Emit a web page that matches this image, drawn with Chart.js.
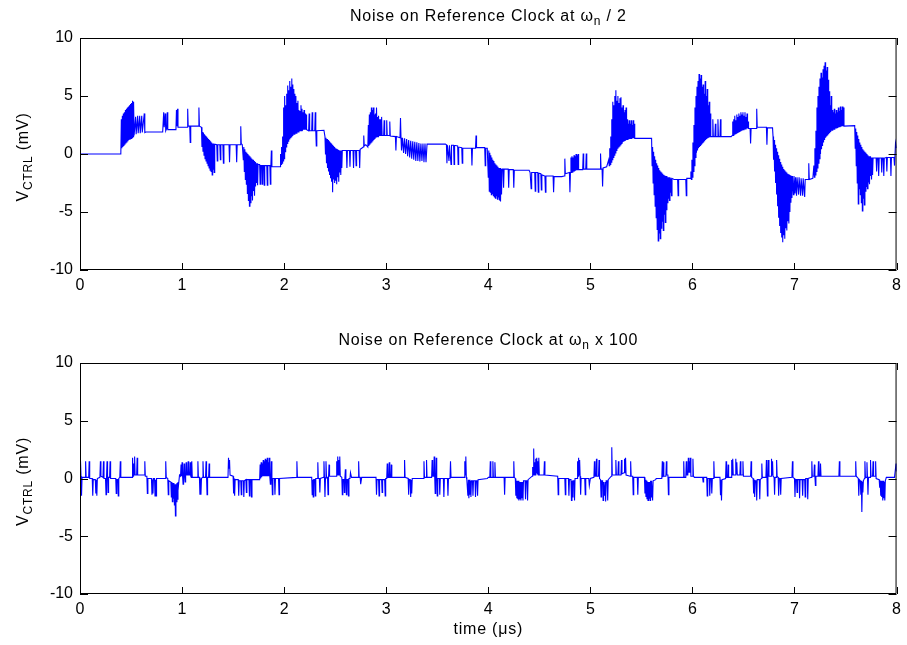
<!DOCTYPE html>
<html>
<head>
<meta charset="utf-8">
<script src="https://cdn.jsdelivr.net/npm/chart.js@4"></script>
<style>
  html, body { margin: 0; padding: 0; background: #fff; overflow: hidden; }
  canvas { position: absolute; left: 0; }
  #topCanvas { top: 0; }
  #bottomCanvas { top: 321px; }
</style>
</head>
<body>
<canvas id="topCanvas" width="907" height="321"></canvas>
<canvas id="bottomCanvas" width="907" height="324"></canvas>
<script>
// axis ticks
const xTicks = [0, 1, 2, 3, 4, 5, 6, 7, 8];
const yTicks = [-10, -5, 0, 5, 10];

// [time (us), V_CTRL (mV)], noise at wn / 2
const topSignal = [
  [0,0],[0.40,0],
  [0.405,3.0],[0.410,0.5],[0.415,3.3],[0.420,0.6],[0.425,3.5],[0.430,0.7],[0.435,3.6],[0.440,0.8],[0.445,3.8],[0.450,0.9],
  [0.455,3.9],[0.460,1.0],[0.465,4.0],[0.470,1.1],[0.475,4.1],[0.480,1.2],[0.485,4.2],[0.490,1.3],[0.495,4.3],[0.500,1.35],
  [0.505,4.4],[0.510,1.4],[0.515,4.6],[0.520,1.5],[0.525,4.5],[0.530,1.6],
  [0.545,3.2],[0.55,1.7],[0.565,3.3],[0.57,1.8],[0.585,3.3],[0.59,1.8],[0.605,3.3],[0.61,1.85],[0.63,3.5],[0.635,1.85],[0.645,1.9],
  [0.81,1.9],[0.82,3.6],[0.825,2.3],[0.835,3.5],[0.84,2.0],[0.85,2.2],[0.855,3.6],[0.86,2.1],[0.94,2.1],[0.945,3.8],[0.95,2.4],
  [0.955,3.9],[0.96,2.3],[1.05,2.3],[1.055,3.9],[1.06,2.4],[1.075,2.4],[1.08,1.0],[1.085,2.4],[1.16,2.4],[1.165,4.0],[1.17,2.4],[1.19,2.3],
  [1.195,0.6],[1.20,1.9],[1.205,0.2],[1.21,1.8],[1.215,-0.1],[1.22,1.7],[1.225,-0.4],[1.23,1.6],[1.235,-0.6],[1.24,1.5],[1.245,-0.8],
  [1.25,1.4],[1.255,-1.0],[1.26,1.3],[1.265,-1.2],[1.27,1.2],[1.275,-1.4],[1.28,1.1],[1.285,-1.5],[1.29,1.0],[1.295,-1.8],[1.30,0.9],
  [1.305,-1.3],[1.31,0.9],[1.315,-1.6],[1.32,0.85],
  [1.34,0.8],[1.345,-0.6],[1.35,0.8],[1.37,0.8],[1.375,-0.5],[1.38,0.8],[1.40,0.8],[1.405,-0.8],[1.41,0.8],[1.46,0.8],[1.465,-0.7],
  [1.47,0.8],[1.53,0.8],[1.535,-0.7],[1.54,0.8],[1.57,0.8],[1.575,2.4],[1.58,0.9],[1.59,0.8],
  [1.60,-0.5],[1.605,0.6],[1.61,-1.5],[1.615,0.4],[1.62,-2.2],[1.625,0.2],[1.63,-2.6],[1.635,0.1],[1.64,-3.4],[1.645,0.0],[1.65,-4.0],
  [1.655,-0.1],[1.66,-4.5],[1.665,-0.2],[1.67,-4.2],[1.675,-0.3],[1.68,-3.6],[1.685,-0.4],[1.69,-4.0],[1.695,-0.5],[1.70,-3.2],
  [1.705,-0.6],[1.71,-3.6],[1.715,-0.7],[1.72,-2.8],[1.725,-0.8],[1.73,-2.5],
  [1.735,-0.8],[1.74,-2.7],[1.745,-0.9],[1.76,-0.9],[1.765,-2.6],[1.77,-1.0],[1.78,-1.0],[1.785,-2.6],[1.79,-1.0],[1.80,-1.0],
  [1.805,-2.7],[1.81,-1.0],[1.83,-1.0],[1.835,-2.7],[1.84,-1.0],[1.86,-1.0],[1.865,-2.6],[1.87,-1.0],[1.875,0.3],[1.88,-1.1],[1.96,-1.1],
  [1.965,0.0],[1.97,-0.9],[1.975,0.6],[1.98,-0.8],[1.985,1.5],[1.99,-0.6],[1.995,4.0],[2.0,-0.4],[2.005,5.0],[2.01,0.2],[2.015,4.2],
  [2.02,0.6],[2.025,5.2],[2.03,0.9],[2.035,5.9],[2.04,1.1],[2.045,5.5],[2.05,1.3],[2.055,6.3],[2.06,1.4],[2.065,5.8],[2.07,1.5],
  [2.075,6.5],[2.08,1.6],[2.085,6.0],[2.09,1.7],[2.095,5.6],[2.10,1.7],[2.105,5.2],[2.11,1.8],[2.115,5.0],[2.12,1.8],[2.125,4.4],
  [2.13,1.9],[2.135,4.6],[2.14,1.9],[2.145,3.8],[2.15,2.0],[2.155,3.7],[2.16,2.0],[2.165,4.2],[2.17,2.0],[2.175,3.9],[2.18,2.0],
  [2.185,3.6],[2.19,2.1],[2.195,3.8],[2.20,2.1],[2.205,3.5],[2.21,2.1],[2.215,3.4],[2.22,2.1],
  [2.24,2.0],[2.245,3.5],[2.25,2.0],[2.27,2.0],[2.275,3.6],[2.28,2.0],[2.30,2.0],[2.305,3.6],[2.31,2.0],[2.315,0.7],[2.32,2.0],[2.39,2.05],
  [2.40,1.5],[2.405,0.0],[2.41,1.4],[2.415,-0.8],[2.42,1.3],[2.425,-1.2],[2.43,1.2],[2.435,-1.5],[2.44,1.1],[2.445,-1.8],[2.45,1.0],
  [2.455,-2.1],[2.46,0.9],[2.465,-2.4],[2.47,0.8],[2.475,-3.3],[2.48,0.7],[2.485,-2.2],[2.49,0.6],[2.495,-2.5],[2.50,0.5],[2.505,-2.3],
  [2.51,0.45],[2.515,-2.6],[2.52,0.4],[2.525,-2.0],[2.53,0.35],[2.535,-2.4],[2.54,0.3],[2.545,-1.6],[2.55,0.3],[2.555,-1.8],[2.56,0.3],
  [2.565,-1.2],[2.57,0.3],
  [2.61,0.3],[2.615,-1.2],[2.62,0.3],[2.64,0.3],[2.645,-1.1],[2.65,0.3],[2.675,0.3],[2.68,-1.2],[2.685,0.3],[2.70,0.3],[2.705,-1.0],
  [2.71,0.3],[2.735,0.3],[2.74,-1.2],[2.745,0.4],[2.76,0.5],[2.775,0.6],[2.78,1.6],[2.785,0.7],[2.80,0.8],
  [2.82,0.6],[2.825,2.5],[2.83,0.7],[2.835,3.4],[2.84,0.8],[2.845,3.6],[2.85,0.9],[2.855,4.0],[2.86,1.0],[2.865,3.8],[2.87,1.1],
  [2.875,4.0],[2.88,1.2],[2.885,3.4],[2.89,1.3],[2.895,3.5],[2.90,1.4],[2.905,4.0],[2.91,1.5],[2.915,3.2],[2.92,1.5],[2.925,3.3],
  [2.93,1.6],[2.935,3.0],[2.94,1.6],[2.945,3.0],[2.95,1.6],[2.955,3.2],[2.96,1.6],
  [2.975,1.6],[2.98,2.9],[2.985,1.6],[3.0,1.6],[3.005,2.9],[3.01,1.6],[3.03,1.6],[3.035,2.8],[3.04,1.55],[3.09,1.5],[3.095,0.3],
  [3.10,1.5],[3.135,1.4],[3.14,3.1],[3.145,1.4],
  [3.15,0.3],[3.16,1.4],[3.17,0.1],[3.18,1.35],[3.19,0.0],[3.20,1.3],[3.21,-0.2],[3.22,1.2],[3.23,-0.3],[3.24,1.15],[3.25,-0.4],
  [3.26,1.1],[3.27,-0.5],[3.28,1.05],[3.29,-0.6],[3.30,1.0],[3.31,-0.6],[3.32,0.95],[3.33,-0.65],[3.34,0.9],[3.35,-0.6],[3.36,0.9],
  [3.37,-0.7],[3.38,0.9],[3.39,-0.7],[3.40,0.85],[3.58,0.85],
  [3.59,0.8],[3.595,-0.8],[3.60,0.75],[3.615,-0.6],[3.62,0.75],[3.635,-0.9],[3.64,0.75],[3.66,0.75],[3.665,-0.9],[3.67,0.75],
  [3.70,0.7],[3.705,-0.9],[3.71,0.6],[3.74,0.55],[3.745,-0.8],[3.75,0.5],[3.835,0.5],[3.84,-1.0],[3.845,0.5],[3.875,0.5],[3.88,1.6],
  [3.885,0.55],[3.965,0.55],[3.97,-1.0],[3.975,0.5],[3.99,0.5],
  [4.0,-2.0],[4.005,0.3],[4.01,-3.2],[4.015,0.1],[4.02,-3.3],[4.025,-0.1],[4.03,-3.5],[4.035,-0.3],[4.04,-3.4],[4.045,-0.5],[4.05,-3.6],
  [4.055,-0.6],[4.06,-3.7],[4.065,-0.8],[4.07,-3.8],[4.075,-0.9],[4.08,-3.6],[4.085,-1.0],[4.09,-3.9],[4.095,-1.1],[4.10,-3.7],
  [4.105,-1.2],[4.11,-4.0],[4.115,-1.2],[4.12,-4.1],[4.125,-1.3],[4.13,-3.5],[4.135,-1.3],
  [4.145,-1.3],[4.15,-2.9],[4.155,-1.3],[4.195,-1.3],[4.20,-2.9],[4.205,-1.35],[4.245,-1.35],[4.25,-2.9],[4.255,-1.4],[4.40,-1.4],
  [4.41,-1.6],[4.42,-3.0],[4.425,-1.6],[4.455,-1.6],[4.46,-3.2],[4.465,-1.6],[4.485,-1.6],[4.49,-3.3],[4.495,-1.65],[4.515,-1.7],
  [4.52,-3.1],[4.525,-1.8],[4.555,-1.9],[4.56,-3.3],[4.565,-1.9],[4.635,-1.9],[4.64,-3.3],[4.645,-1.95],[4.72,-1.95],
  [4.745,-1.9],[4.75,-0.4],[4.755,-1.7],[4.795,-1.6],[4.80,-3.3],[4.805,-1.6],
  [4.81,-0.3],[4.815,-1.6],[4.82,-0.2],[4.825,-1.55],[4.83,-0.3],[4.835,-1.5],[4.84,-0.1],[4.845,-1.5],[4.85,-0.2],[4.855,-1.45],
  [4.86,0.0],[4.865,-1.4],[4.87,-0.1],[4.875,-1.4],[4.88,0.0],[4.885,-1.35],[4.925,-1.35],[4.93,0.05],[4.935,-1.3],[4.955,-1.3],
  [4.96,0.05],[4.965,-1.3],[5.07,-1.3],[5.095,-1.3],[5.10,0.05],[5.105,-1.3],[5.115,-1.3],[5.12,-2.8],[5.125,-1.2],[5.16,-1.1],
  [5.18,-0.5],[5.185,-1.0],[5.19,0.5],[5.195,-0.9],[5.20,1.5],[5.205,-0.7],[5.21,3.0],[5.215,-0.5],[5.22,4.5],[5.225,-0.3],[5.23,4.2],
  [5.235,-0.1],[5.24,5.0],[5.245,0.1],[5.25,5.5],[5.255,0.3],[5.26,4.6],[5.265,0.5],[5.27,5.0],[5.275,0.6],[5.28,4.4],[5.285,0.7],
  [5.29,4.8],[5.295,0.8],[5.30,4.9],[5.305,0.9],[5.31,4.0],[5.315,1.0],[5.32,4.2],[5.325,1.05],[5.33,3.6],[5.335,1.1],[5.34,3.8],
  [5.345,1.15],[5.35,4.0],[5.355,1.2],[5.36,3.0],[5.365,1.2],[5.37,2.6],[5.375,1.25],[5.38,2.9],[5.385,1.3],[5.39,2.6],[5.395,1.3],
  [5.40,2.9],[5.405,1.3],[5.41,2.5],[5.415,1.35],[5.42,2.9],[5.425,1.35],[5.43,2.6],[5.435,1.35],[5.60,1.35],
  [5.605,-1.0],[5.61,0.6],[5.615,-2.5],[5.62,0.2],[5.625,-3.5],[5.63,-0.2],[5.635,-4.5],[5.64,-0.5],[5.645,-5.5],[5.65,-0.8],
  [5.655,-6.5],[5.66,-1.0],[5.665,-7.5],[5.67,-1.2],[5.675,-6.8],[5.68,-1.4],[5.685,-7.3],[5.69,-1.5],[5.695,-6.4],[5.70,-1.6],
  [5.705,-5.8],[5.71,-1.7],[5.715,-6.6],[5.72,-1.8],[5.725,-5.2],[5.73,-1.85],[5.735,-5.9],[5.74,-1.9],[5.745,-4.8],[5.75,-1.9],
  [5.755,-4.2],[5.76,-2.0],[5.765,-3.8],[5.77,-2.0],[5.775,-4.0],[5.78,-2.0],[5.785,-3.3],[5.79,-2.1],[5.795,-3.6],[5.80,-2.1],
  [5.82,-2.2],[5.855,-2.2],[5.86,-3.6],[5.865,-2.2],[5.935,-2.2],[5.94,-3.6],[5.945,-2.1],[5.98,-2.1],
  [5.985,-1.5],[5.99,-2.2],[5.995,-0.5],[6.0,-2.0],[6.005,1.0],[6.01,-1.5],[6.015,2.5],[6.02,-1.0],[6.025,4.0],[6.03,-0.3],[6.035,5.0],
  [6.04,0.1],[6.045,5.8],[6.05,0.3],[6.055,6.3],[6.06,0.5],[6.065,6.9],[6.07,0.6],[6.075,6.5],[6.08,0.7],[6.085,6.8],[6.09,0.8],
  [6.095,5.8],[6.10,0.9],[6.105,6.0],[6.11,1.0],[6.115,5.2],[6.12,1.1],[6.125,6.3],[6.13,1.2],[6.135,5.0],[6.14,1.3],[6.145,5.6],
  [6.15,1.35],[6.155,4.2],[6.16,1.4],[6.165,4.5],[6.17,1.45],[6.175,3.5],[6.18,1.5],
  [6.195,1.5],[6.20,3.0],[6.205,1.5],[6.22,1.5],[6.225,2.6],[6.23,1.5],[6.245,1.5],[6.25,3.0],[6.255,1.5],[6.27,1.5],[6.275,3.0],
  [6.28,1.5],[6.38,1.5],
  [6.39,1.6],[6.395,2.8],[6.40,1.6],[6.405,3.0],[6.41,1.7],[6.415,3.3],[6.42,1.75],[6.425,2.9],[6.43,1.8],[6.435,3.4],[6.44,1.85],
  [6.445,3.2],[6.45,1.9],[6.455,3.5],[6.46,1.95],[6.465,3.3],[6.47,2.0],[6.475,3.6],[6.48,2.05],[6.485,3.4],[6.49,2.1],[6.495,3.6],
  [6.50,2.1],[6.505,3.3],[6.51,2.15],[6.515,3.6],[6.52,2.15],[6.525,3.2],[6.53,2.2],[6.535,3.5],[6.54,2.2],[6.545,2.8],[6.55,2.2],
  [6.565,2.2],[6.57,0.9],[6.575,2.2],[6.625,2.2],[6.63,3.9],[6.635,2.3],[6.70,2.3],[6.725,2.3],[6.73,0.8],[6.735,2.25],[6.785,2.25],
  [6.79,1.5],[6.795,-0.5],[6.80,1.2],[6.805,-1.5],[6.81,0.8],[6.815,-2.5],[6.82,0.5],[6.825,-3.5],[6.83,0.2],[6.835,-4.5],[6.84,-0.1],
  [6.845,-5.5],[6.85,-0.4],[6.855,-6.2],[6.86,-0.7],[6.865,-6.8],[6.87,-0.9],[6.875,-7.2],[6.88,-1.1],[6.885,-7.6],[6.89,-1.3],
  [6.895,-7.0],[6.90,-1.4],[6.905,-7.3],[6.91,-1.5],[6.915,-6.4],[6.92,-1.6],[6.925,-6.6],[6.93,-1.7],[6.935,-5.8],[6.94,-1.75],
  [6.945,-6.0],[6.95,-1.8],[6.955,-5.0],[6.96,-1.85],[6.965,-4.2],[6.97,-1.9],[6.975,-3.8],[6.98,-1.9],
  [6.99,-3.5],[6.995,-1.9],[7.005,-3.4],[7.01,-2.0],[7.02,-3.6],[7.025,-2.0],[7.04,-3.5],[7.045,-2.0],[7.06,-3.6],[7.065,-2.1],
  [7.08,-3.6],[7.085,-2.1],[7.10,-3.7],[7.105,-2.2],[7.12,-2.2],[7.135,-2.2],[7.14,-0.8],[7.145,-2.2],[7.18,-2.1],
  [7.19,-1.0],[7.195,-2.0],[7.20,0.5],[7.205,-1.8],[7.21,2.0],[7.215,-1.5],[7.22,4.0],[7.225,-1.2],[7.23,5.0],[7.235,-0.8],[7.24,5.8],
  [7.245,-0.4],[7.25,6.5],[7.255,0.0],[7.26,7.0],[7.265,0.4],[7.27,6.6],[7.275,0.7],[7.28,7.3],[7.285,1.0],[7.29,7.6],[7.295,1.2],
  [7.30,7.9],[7.305,1.4],[7.31,7.2],[7.315,1.5],[7.32,7.5],[7.325,1.6],[7.33,6.4],[7.335,1.7],[7.34,5.4],[7.345,1.8],[7.35,4.2],
  [7.355,1.9],[7.36,5.0],[7.365,2.0],[7.37,3.8],[7.375,2.0],[7.38,3.6],[7.385,2.1],[7.39,3.9],[7.395,2.1],[7.40,3.5],[7.405,2.2],
  [7.41,3.8],[7.415,2.2],[7.42,3.6],[7.425,2.25],[7.43,4.0],[7.435,2.3],[7.44,3.7],[7.445,2.3],[7.45,4.1],[7.455,2.35],[7.46,3.8],
  [7.465,2.4],[7.47,4.1],[7.475,2.4],[7.48,4.0],[7.485,2.4],[7.59,2.45],
  [7.595,0.5],[7.60,2.2],[7.605,-1.0],[7.61,1.9],[7.615,-2.5],[7.62,1.6],[7.625,-4.3],[7.63,1.3],[7.635,-3.0],[7.64,1.0],[7.645,-3.5],
  [7.65,0.8],[7.655,-4.2],[7.66,0.6],[7.665,-4.9],[7.67,0.4],[7.675,-3.8],[7.68,0.3],[7.685,-4.4],[7.69,0.2],[7.695,-3.2],[7.70,0.1],
  [7.705,-2.8],[7.71,0.0],[7.715,-3.0],[7.72,-0.1],[7.725,-2.4],[7.73,-0.2],[7.735,-2.6],[7.74,-0.2],[7.745,-1.9],[7.75,-0.3],
  [7.755,-2.2],[7.76,-0.3],[7.765,-1.8],[7.77,-0.35],
  [7.80,-0.35],[7.805,-1.5],[7.81,-0.35],[7.82,-0.35],[7.825,-1.9],[7.83,-0.35],[7.85,-0.35],[7.855,-1.6],[7.86,-0.35],[7.87,-0.35],
  [7.875,-1.9],[7.88,-0.35],[7.90,-0.3],[7.905,-1.5],[7.91,-0.3],[7.94,-0.3],[7.945,-1.9],[7.95,-0.3],[7.975,-0.3],[7.98,-1.0],
  [7.99,0.95],[8.0,0.5]
];

// [time (us), V_CTRL (mV)], noise at wn x 100
const bottomSignal = [
  [0,0.3],[0.005,1.5],[0.01,0.2],[0.015,-1.5],[0.02,0.1],[0.05,0.1],[0.055,1.5],[0.06,0.1],[0.085,0.1],[0.09,1.5],[0.095,0.0],
  [0.12,0.0],[0.125,-1.5],[0.13,-0.1],[0.15,-0.1],[0.155,-1.3],[0.16,-0.1],[0.165,-1.5],[0.17,0.0],[0.195,0.1],[0.20,1.5],[0.205,0.2],
  [0.225,0.1],[0.23,1.5],[0.235,0.0],[0.25,0.0],[0.255,-1.4],[0.26,0.1],[0.265,1.5],[0.27,0.1],[0.275,-1.2],[0.28,0.1],[0.29,0.1],
  [0.295,1.5],[0.30,0.0],[0.35,0.0],[0.355,-1.3],[0.36,-0.1],[0.37,-0.1],[0.375,-1.5],[0.38,0.0],[0.39,0.1],[0.395,1.5],[0.40,0.1],
  [0.51,0.1],[0.515,1.8],[0.52,0.2],[0.525,1.3],[0.53,0.3],[0.535,1.9],[0.54,0.3],[0.555,0.3],[0.56,1.8],[0.565,0.3],[0.63,0.3],
  [0.635,1.5],[0.64,0.2],[0.655,0.2],[0.66,-1.3],[0.665,0.0],[0.70,0.0],[0.705,-1.4],[0.71,-0.1],[0.715,-1.3],[0.72,0.0],[0.73,0.0],
  [0.735,-1.5],[0.74,-0.1],[0.745,-1.5],[0.75,0.0],[0.835,0.0],[0.84,1.5],[0.845,0.1],[0.86,0.0],[0.865,-1.4],[0.87,-0.2],[0.89,-0.3],
  [0.895,-1.6],[0.90,-0.3],[0.905,-2.0],[0.91,-0.4],[0.915,-1.7],[0.92,-0.4],[0.925,-2.3],[0.93,-0.5],[0.935,-3.25],[0.94,-0.5],
  [0.945,-2.0],[0.95,-0.4],[0.955,-1.8],[0.96,-0.3],[0.965,-0.6],[0.975,0.3],[0.985,0.2],[0.99,1.2],[0.995,0.2],[1.0,1.4],[1.005,0.2],
  [1.01,-0.5],[1.015,0.3],[1.02,1.3],[1.025,0.2],[1.03,-0.3],[1.035,0.3],[1.04,1.4],[1.045,0.3],[1.055,0.3],[1.06,1.5],[1.065,0.3],
  [1.075,0.3],[1.08,1.4],[1.085,0.2],[1.09,0.1],[1.095,1.5],[1.10,0.1],[1.15,0.1],[1.155,1.5],[1.16,0.1],[1.17,0.1],[1.175,-1.4],
  [1.18,0.0],[1.185,-1.4],[1.19,0.0],[1.20,0.1],[1.205,1.5],[1.21,0.1],[1.23,0.1],[1.235,1.5],[1.24,0.1],[1.245,-1.4],[1.25,0.1],
  [1.26,0.1],[1.265,1.3],[1.27,0.1],[1.45,0.1],[1.455,1.8],[1.46,0.9],[1.465,1.6],[1.47,0.3],[1.50,0.2],[1.505,-1.3],[1.51,0.0],
  [1.515,-1.5],[1.52,-0.1],[1.55,-0.1],[1.555,-1.5],[1.56,-0.2],[1.575,-0.2],[1.58,-1.4],[1.585,-0.2],[1.60,-0.2],[1.605,-1.6],
  [1.61,-0.2],[1.625,-0.1],[1.63,-1.2],[1.635,-0.1],[1.655,-0.1],[1.66,-1.5],[1.665,-0.1],[1.675,-0.1],[1.68,-1.6],[1.685,-0.1],
  [1.70,-0.1],[1.76,-0.1],[1.765,1.2],[1.77,0.0],[1.775,1.4],[1.78,0.1],[1.785,1.3],[1.79,0.2],[1.795,1.6],[1.80,0.2],[1.805,1.5],
  [1.81,0.2],[1.815,1.7],[1.82,0.2],[1.825,1.6],[1.83,0.2],[1.835,1.8],[1.84,0.2],[1.845,1.4],[1.85,0.2],[1.855,1.8],[1.86,0.1],
  [1.865,-0.5],[1.87,0.1],[1.875,1.5],[1.88,0.1],[1.885,-1.4],[1.89,0.0],[1.905,0.0],[1.91,-1.4],[1.915,0.0],[1.945,0.0],[1.95,-1.4],
  [1.955,0.0],[2.12,0.1],[2.125,1.5],[2.13,0.1],[2.27,0.1],[2.275,-1.4],[2.28,-0.1],[2.285,-1.6],[2.29,-0.1],[2.30,-0.1],[2.305,-1.5],
  [2.31,0.0],[2.325,0.0],[2.33,1.4],[2.335,0.0],[2.345,0.0],[2.35,-1.2],[2.355,0.0],[2.385,0.1],[2.39,1.5],[2.395,0.1],[2.40,-1.6],
  [2.405,0.0],[2.41,1.5],[2.415,0.1],[2.425,0.1],[2.43,-1.4],[2.435,0.1],[2.44,1.2],[2.445,0.2],[2.51,0.2],[2.515,1.5],[2.52,0.3],
  [2.525,1.9],[2.53,0.3],[2.535,1.6],[2.54,0.3],[2.545,1.9],[2.55,0.2],[2.565,0.1],[2.57,-1.4],[2.575,-0.1],[2.585,-0.1],[2.59,-1.2],
  [2.595,0.0],[2.60,0.8],[2.605,-0.2],[2.61,-1.4],[2.615,-0.1],[2.625,-0.1],[2.63,-1.5],[2.635,0.0],[2.645,0.0],[2.65,0.5],[2.66,0.1],
  [2.725,0.1],[2.73,1.5],[2.735,0.1],[2.745,0.1],[2.75,-0.5],[2.76,0.1],[2.90,0.1],[2.905,-1.4],[2.91,-0.1],[2.925,-0.1],[2.93,-1.5],
  [2.935,-0.1],[2.955,-0.1],[2.96,-1.2],[2.965,-0.1],[2.985,-0.1],[2.99,-1.5],[2.995,0.0],[3.005,0.0],[3.01,1.3],[3.015,0.1],
  [3.025,0.1],[3.03,1.4],[3.035,0.1],[3.045,0.1],[3.05,1.2],[3.055,0.1],[3.175,0.1],[3.18,1.6],[3.185,0.1],[3.215,0.0],[3.22,-1.4],
  [3.225,-0.1],[3.235,-0.1],[3.24,-1.6],[3.245,-0.1],[3.25,-1.3],[3.255,0.0],[3.365,0.0],[3.37,1.5],[3.375,0.1],[3.39,0.1],[3.395,1.6],
  [3.40,0.1],[3.445,0.1],[3.45,1.6],[3.455,0.2],[3.465,0.2],[3.47,1.9],[3.475,0.2],[3.48,-1.3],[3.485,0.1],[3.49,1.8],[3.495,0.1],
  [3.50,-1.5],[3.505,0.0],[3.52,0.0],[3.525,-1.4],[3.53,0.0],[3.56,0.0],[3.565,-1.6],[3.57,0.0],[3.60,0.0],[3.605,-1.5],[3.61,0.0],
  [3.625,0.0],[3.63,1.5],[3.635,0.1],[3.765,0.1],[3.77,1.5],[3.775,0.3],[3.78,1.9],[3.785,0.1],[3.79,-0.1],[3.80,-1.5],[3.805,-0.1],
  [3.81,-1.7],[3.815,-0.1],[3.82,-1.4],[3.825,-0.2],[3.83,-1.6],[3.835,-0.2],[3.845,-0.2],[3.85,-1.5],[3.855,-0.2],[3.87,-0.2],
  [3.875,-1.6],[3.88,-0.2],[3.89,-0.2],[3.895,-1.5],[3.90,-0.1],[3.99,0.0],[4.0,0.1],
  [4.015,0.1],[4.02,1.5],[4.025,0.1],[4.04,0.1],[4.045,1.5],[4.05,0.1],[4.06,0.1],[4.065,1.4],[4.07,0.1],[4.155,0.1],[4.16,-1.4],
  [4.165,0.1],[4.245,0.1],[4.25,1.5],[4.255,0.1],[4.265,0.0],[4.27,-1.5],[4.275,-0.2],[4.28,-1.7],[4.285,-0.2],[4.29,-1.8],
  [4.295,-0.2],[4.30,-1.9],[4.305,-0.3],[4.31,-1.8],[4.315,-0.3],[4.32,-1.9],[4.325,-0.3],[4.33,-1.7],[4.335,-0.3],[4.34,-1.9],
  [4.345,-0.2],[4.36,-0.2],[4.365,-1.8],[4.37,-0.2],[4.38,-0.2],[4.385,-1.9],[4.39,-0.1],[4.43,0.2],[4.435,1.0],[4.44,0.3],
  [4.445,2.6],[4.45,0.3],[4.455,1.4],[4.46,0.3],[4.465,1.7],[4.47,0.5],[4.475,1.8],[4.48,0.4],[4.485,1.5],[4.49,0.3],[4.495,1.8],
  [4.50,0.3],[4.545,0.3],[4.55,1.5],[4.555,0.3],[4.68,0.2],[4.685,-1.4],[4.69,0.0],[4.75,0.0],[4.755,-1.4],[4.76,0.0],[4.785,0.0],
  [4.79,-1.5],[4.795,-0.1],[4.81,-0.1],[4.815,-1.9],[4.82,-0.2],[4.825,-1.6],[4.83,-0.2],[4.84,-0.2],[4.845,-1.9],[4.85,0.0],
  [4.87,0.0],[4.875,1.5],[4.88,0.2],[4.885,1.8],[4.89,0.3],[4.895,1.6],[4.90,0.2],[4.905,-1.4],[4.91,0.0],[4.945,0.0],[4.95,-1.4],
  [4.955,0.0],[4.985,0.0],[4.99,-0.6],[5.0,0.0],[5.035,0.1],[5.04,1.5],[5.045,0.2],[5.055,0.2],[5.06,1.7],[5.065,0.2],[5.08,0.2],
  [5.085,1.6],[5.09,0.0],[5.10,-0.1],[5.105,-1.6],[5.11,-0.2],[5.12,-0.2],[5.125,-1.9],[5.13,-0.3],[5.14,-1.5],[5.145,-0.3],
  [5.15,-2.0],[5.155,-0.2],[5.165,-0.2],[5.17,-1.9],[5.175,-0.1],[5.205,0.2],[5.21,2.7],[5.215,0.3],[5.245,0.3],[5.25,1.6],
  [5.255,0.3],[5.27,0.3],[5.275,1.5],[5.28,0.3],[5.30,0.3],[5.305,1.6],[5.31,0.4],[5.33,0.5],[5.335,1.7],[5.34,0.5],[5.345,1.8],
  [5.35,0.3],[5.39,0.2],[5.395,1.5],[5.40,0.2],[5.415,0.2],[5.42,-1.4],[5.425,0.1],[5.46,0.1],[5.465,-1.4],[5.47,0.1],[5.53,0.1],
  [5.535,-1.3],[5.54,-0.1],[5.545,-1.6],[5.55,-0.2],[5.555,-1.8],[5.56,-0.3],[5.565,-1.9],[5.57,-0.3],[5.575,-1.7],[5.58,-0.3],
  [5.585,-1.9],[5.59,-0.2],[5.595,-1.6],[5.60,-0.2],[5.61,-1.9],[5.615,-0.2],[5.64,-0.1],[5.645,0.0],[5.70,0.0],[5.705,1.5],
  [5.71,0.1],[5.715,1.4],[5.72,0.2],[5.74,0.2],[5.745,1.5],[5.75,0.3],[5.76,0.3],[5.765,-1.4],[5.77,0.1],[5.78,0.1],[5.91,0.1],
  [5.915,1.5],[5.92,0.1],[5.935,0.1],[5.94,1.5],[5.945,0.3],[5.955,0.3],[5.96,1.8],[5.965,0.5],[5.97,1.5],[5.975,0.5],[5.98,1.8],
  [5.985,0.2],[6.0,0.2],[6.005,1.7],[6.01,0.2],[6.02,0.1],[6.10,0.1],[6.105,-0.3],[6.11,0.1],[6.14,0.1],[6.145,-1.5],[6.15,0.0],
  [6.165,0.0],[6.17,-1.5],[6.175,0.0],[6.185,0.0],[6.19,-1.3],[6.195,0.0],[6.205,0.0],[6.21,1.5],[6.215,0.1],[6.27,0.1],[6.275,-1.4],
  [6.28,-0.1],[6.285,-1.9],[6.29,-0.1],[6.325,0.0],[6.33,1.5],[6.335,0.1],[6.345,0.1],[6.35,1.2],[6.355,0.1],[6.38,0.1],[6.385,1.6],
  [6.39,0.3],[6.395,1.7],[6.40,0.3],[6.42,0.3],[6.425,1.7],[6.43,0.4],[6.435,1.4],[6.44,0.3],[6.465,0.3],[6.47,1.5],[6.475,0.3],
  [6.49,0.3],[6.495,1.5],[6.50,0.2],[6.57,0.2],[6.575,1.5],[6.58,0.1],[6.595,0.0],[6.60,-1.3],[6.605,-0.1],[6.61,-1.6],[6.615,-0.2],
  [6.625,-0.2],[6.63,-1.9],[6.635,-0.1],[6.655,-0.1],[6.66,-1.8],[6.665,-0.1],[6.675,0.0],[6.68,1.3],[6.685,0.1],[6.72,0.1],
  [6.725,1.6],[6.73,0.2],[6.735,-1.5],[6.74,0.1],[6.745,1.6],[6.75,0.2],[6.77,0.2],[6.775,1.7],[6.78,0.3],[6.785,1.5],[6.79,0.2],
  [6.80,0.1],[6.805,-1.4],[6.81,0.1],[6.82,0.1],[6.825,1.6],[6.83,0.2],[6.84,0.1],[6.845,-1.5],[6.85,0.0],[6.86,0.0],[6.865,-1.4],
  [6.87,0.0],[6.975,0.1],[6.98,1.5],[6.985,0.1],[7.00,0.0],[7.005,-1.6],[7.01,-0.1],[7.02,-0.1],[7.025,-1.2],[7.03,-0.1],[7.045,-0.1],
  [7.05,-1.7],[7.055,-0.1],[7.075,-0.1],[7.08,-1.5],[7.085,-0.1],[7.10,-0.1],[7.105,-1.6],[7.11,0.0],[7.125,0.0],[7.13,-1.8],
  [7.135,0.0],[7.165,0.1],[7.17,1.5],[7.175,0.2],[7.19,0.2],[7.195,1.2],[7.20,0.2],[7.205,-0.6],[7.21,0.2],[7.23,0.2],[7.235,1.5],
  [7.24,0.2],[7.25,0.2],[7.255,1.3],[7.26,0.2],[7.435,0.2],[7.44,1.5],[7.445,0.2],[7.595,0.2],[7.60,1.5],[7.605,0.2],[7.625,0.0],
  [7.63,-1.5],[7.635,-0.1],[7.645,-0.2],[7.65,-1.4],[7.655,-0.2],[7.66,-2.9],[7.665,-0.3],[7.67,-1.2],[7.675,-0.2],[7.685,0.0],
  [7.69,1.5],[7.695,0.1],[7.705,0.1],[7.71,1.4],[7.715,0.1],[7.72,-1.4],[7.725,0.1],[7.74,0.1],[7.745,1.6],[7.75,0.2],[7.765,0.2],
  [7.77,1.5],[7.775,0.2],[7.79,0.2],[7.795,1.5],[7.80,0.0],[7.83,-0.1],[7.835,-0.8],[7.84,-0.2],[7.845,-1.5],[7.85,-0.2],[7.855,-1.6],
  [7.86,-0.2],[7.865,-1.9],[7.87,-0.2],[7.875,-1.7],[7.88,-0.3],[7.885,-1.9],[7.89,-0.2],[7.90,0.1],[7.98,0.1],[7.995,1.3],[8.0,0.6]
];

const FONT = '"Liberation Sans", Arial, Helvetica, sans-serif';

// draws text made of [text, size, baselineShift] pieces, centred on cx
function drawRich(ctx, parts, cx, y) {
    ctx.letterSpacing = '0.8px';
    let total = 0;
    parts.forEach(([t, size]) => {
        ctx.font = `${size}px ${FONT}`;
        total += ctx.measureText(t).width;
    });
    let x = cx - total / 2;
    ctx.textAlign = 'left';
    ctx.textBaseline = 'alphabetic';
    parts.forEach(([t, size, dy]) => {
        ctx.font = `${size}px ${FONT}`;
        ctx.fillText(t, x, y + dy);
        x += ctx.measureText(t).width;
    });
}

// MATLAB look: full box, inward ticks on all sides, titles with subscripts
const matlabFrame = {
    id: 'matlabFrame',
    afterDraw(chart, args, opts) {
        const { ctx, chartArea: a, scales } = chart;
        ctx.save();
        ctx.strokeStyle = '#000';
        ctx.lineWidth = 1;
        ctx.beginPath();
        ctx.rect(a.left + 0.5, a.top + 0.5, a.right - a.left - 1, a.bottom - a.top - 1);
        xTicks.forEach(v => {
            const x = Math.round(scales.x.getPixelForValue(v)) + 0.5;
            ctx.moveTo(x, a.bottom); ctx.lineTo(x, a.bottom - 7);
            ctx.moveTo(x, a.top); ctx.lineTo(x, a.top + 7);
        });
        yTicks.forEach(v => {
            const y = Math.round(scales.y.getPixelForValue(v)) + 0.5;
            ctx.moveTo(a.left, y); ctx.lineTo(a.left + 8, y);
            ctx.moveTo(a.right, y); ctx.lineTo(a.right - 8, y);
        });
        ctx.stroke();

        ctx.fillStyle = '#000';
        drawRich(ctx, opts.title, (a.left + a.right) / 2, opts.titleY);
        if (opts.xLabel) {
            drawRich(ctx, [[opts.xLabel, 16, 0]], (a.left + a.right) / 2, opts.xLabelY);
        }
        ctx.translate(opts.yLabelX, (a.top + a.bottom) / 2 + 3);
        ctx.rotate(-Math.PI / 2);
        drawRich(ctx, [['V', 16, 0], ['CTRL', 12, 4], [' (mV)', 16, 0]], 0, 0);
        ctx.restore();
    }
};

function makeChart(canvasId, signal, frame, padTop, xHeight) {
    return new Chart(document.getElementById(canvasId), {
        type: 'line',
        data: {
            datasets: [{
                data: signal.map(([x, y]) => ({ x, y })),
                borderColor: '#0000ff',
                borderWidth: 1.1,
                pointRadius: 0,
                tension: 0,
                fill: false
            }]
        },
        options: {
            responsive: false,
            animation: false,
            events: [],
            layout: { padding: { top: padTop, right: 6, left: 0, bottom: 0 } },
            plugins: {
                legend: { display: false },
                tooltip: { enabled: false },
                matlabFrame: frame
            },
            scales: {
                x: {
                    type: 'linear',
                    min: 0, max: 8,
                    grid: { display: false, drawTicks: false },
                    border: { display: false },
                    afterBuildTicks: s => { s.ticks = xTicks.map(v => ({ value: v })); },
                    afterFit: s => { s.height = xHeight; },
                    ticks: {
                        color: '#000', padding: 6, autoSkip: false, maxRotation: 0,
                        font: { family: FONT, size: 16 }
                    }
                },
                y: {
                    min: -10, max: 10,
                    grid: { display: false, drawTicks: false },
                    border: { display: false },
                    afterBuildTicks: s => { s.ticks = yTicks.map(v => ({ value: v })); },
                    afterFit: s => { s.width = 80; },
                    ticks: {
                        color: '#000', padding: 7,
                        font: { family: FONT, size: 16 }
                    }
                }
            }
        },
        plugins: [matlabFrame]
    });
}

makeChart('topCanvas', topSignal, {
    title: [['Noise on Reference Clock at \u03c9', 16, 0], ['n', 12, 4], [' / 2', 16, 0]],
    titleY: 21,
    yLabelX: 28
}, 38, 51);

makeChart('bottomCanvas', bottomSignal, {
    title: [['Noise on Reference Clock at \u03c9', 16, 0], ['n', 12, 4], [' x 100', 16, 0]],
    titleY: 24,
    yLabelX: 28,
    xLabel: 'time (\u03bcs)',
    xLabelY: 313
}, 42, 51);
</script>
</body>
</html>
